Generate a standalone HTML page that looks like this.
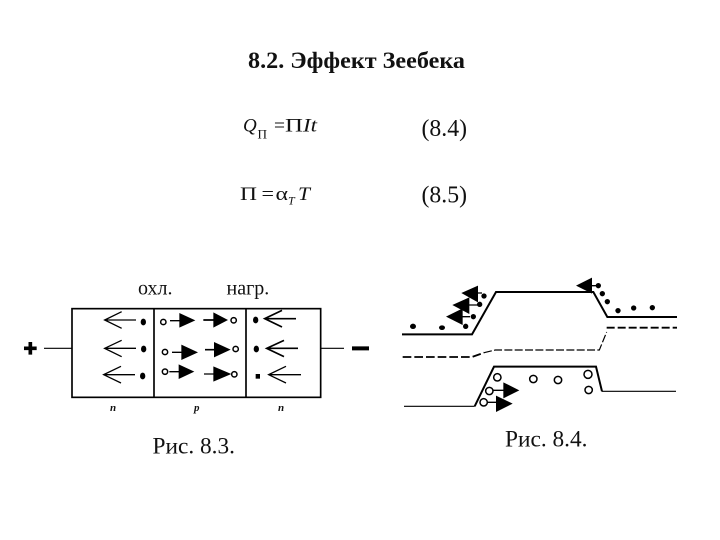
<!DOCTYPE html>
<html lang="ru">
<head>
<meta charset="utf-8">
<style>
html,body{margin:0;padding:0;background:#fff;width:720px;height:540px;overflow:hidden}
svg{display:block}
text{font-family:"Liberation Serif",serif;fill:#111}
</style>
</head>
<body>
<svg width="720" height="540" viewBox="0 0 720 540" xmlns="http://www.w3.org/2000/svg">
<rect width="720" height="540" fill="#fff"/>
<text x="248" y="68" font-size="23" font-weight="bold" textLength="217" lengthAdjust="spacingAndGlyphs">8.2. Эффект Зеебека</text>

<text x="243" y="131.5" font-size="19" font-style="italic">Q</text>
<text x="257.5" y="138.5" font-size="13" textLength="9.5" lengthAdjust="spacingAndGlyphs">П</text>
<text x="274" y="131.5" font-size="19" textLength="11" lengthAdjust="spacingAndGlyphs">=</text>
<text x="285" y="131.5" font-size="19" textLength="18" lengthAdjust="spacingAndGlyphs">П</text>
<text x="303" y="131.5" font-size="19" font-style="italic" textLength="14" lengthAdjust="spacingAndGlyphs">It</text>
<text x="421.5" y="136" font-size="24" textLength="45.5" lengthAdjust="spacingAndGlyphs">(8.4)</text>

<text x="240" y="200" font-size="19" textLength="17" lengthAdjust="spacingAndGlyphs">П</text>
<text x="261.5" y="200" font-size="19" textLength="12.5" lengthAdjust="spacingAndGlyphs">=</text>
<text x="275.5" y="200" font-size="19" textLength="12.5" lengthAdjust="spacingAndGlyphs">α</text>
<text x="288" y="204.5" font-size="12" font-style="italic">T</text>
<text x="298" y="200" font-size="19" font-style="italic" textLength="12" lengthAdjust="spacingAndGlyphs">T</text>
<text x="421.5" y="202.5" font-size="24" textLength="45.5" lengthAdjust="spacingAndGlyphs">(8.5)</text>

<text x="138" y="294.3" font-size="20" fill="#333">охл.</text>
<text x="226.5" y="294.3" font-size="20" fill="#333">нагр.</text>
<text x="110" y="411" font-size="11" font-style="italic" font-weight="bold">n</text>
<text x="194" y="411" font-size="11" font-style="italic" font-weight="bold">p</text>
<text x="278" y="411" font-size="11" font-style="italic" font-weight="bold">n</text>
<text x="152.5" y="453.5" font-size="23.5" textLength="82.5" lengthAdjust="spacingAndGlyphs">Рис. 8.3.</text>
<text x="505" y="446.7" font-size="23.5" textLength="82.5" lengthAdjust="spacingAndGlyphs">Рис. 8.4.</text>

<!-- Fig 8.3 -->
<g transform="translate(0,265) scale(.33333)" fill="none" stroke="#000">
  <rect x="216" y="131" width="746" height="266" stroke-width="5"/>
  <path d="M462 131V397M738 131V397" stroke-width="5"/>
  <path d="M132 250H216M962 250H1032" stroke-width="3.5"/>
  <path d="M72 250H110M91 231V269" stroke-width="11"/>
  <path d="M1056 250H1107" stroke-width="12"/>

  <g stroke-width="4">
    <path d="M408 165H316M365 140L314 165L365 190"/>
    <path d="M408 250H316M365 226L314 250L365 275"/>
    <path d="M405 329H313M363 304L311 329L363 354"/>
    <path d="M888 161H796M846 136L794 161L846 186" stroke-width="5"/>
    <path d="M894 250H802M852 226L800 250L852 275" stroke-width="5"/>
    <path d="M903 329H808M858 304L806 329L858 354"/>
  </g>

  <g fill="#000" stroke="none">
    <ellipse cx="430" cy="171" rx="8" ry="10"/>
    <ellipse cx="431" cy="252" rx="8" ry="10"/>
    <ellipse cx="428" cy="333" rx="8" ry="10"/>
    <ellipse cx="767" cy="165" rx="8" ry="10"/>
    <ellipse cx="769" cy="252" rx="8" ry="10"/>
    <rect x="767" y="327" width="13" height="14"/>
    <path d="M538 144L586 166L538 188Z"/>
    <path d="M640 142L684 165L640 188Z"/>
    <path d="M544 239L594 262L544 285Z"/>
    <path d="M642 231L692 254L642 277Z"/>
    <path d="M536 298L583 320L536 342Z"/>
    <path d="M640 304L694 327L640 350Z"/>
  </g>
  <g stroke-width="4">
    <path d="M510 167H540M516 262H546M508 320H538M612 327H642"/>
    <path d="M610 165H642M615 254H644" stroke-width="5"/>
  </g>
  <g stroke-width="4.5" fill="#fff">
    <circle cx="490" cy="171" r="8"/>
    <circle cx="701" cy="166" r="8"/>
    <circle cx="495" cy="261" r="8"/>
    <circle cx="707" cy="252" r="8"/>
    <circle cx="495" cy="320" r="8"/>
    <circle cx="703" cy="328" r="8"/>
  </g>
</g>

<!-- Fig 8.4 -->
<g transform="translate(390,265) scale(.33333)" fill="none" stroke="#000">
  <path d="M36 208H246L318 81H610L652 156H861" stroke-width="6"/>
  <path d="M38 276H246L282 263" stroke-width="5.5" stroke-dasharray="26 9"/>
  <path d="M282 263L316 255H628L650 201" stroke-width="3.5" stroke-dasharray="24 7"/>
  <path d="M650 188H861" stroke-width="5.5" stroke-dasharray="24 9"/>
  <path d="M254 424L312 305H618L636 379" stroke-width="6"/>
  <path d="M42 424H254" stroke-width="3.5"/>
  <path d="M636 379H858" stroke-width="3.5"/>

  <g fill="#000" stroke="none">
    <ellipse cx="69" cy="184" rx="9" ry="8"/>
    <ellipse cx="156" cy="188" rx="9" ry="7"/>
    <circle cx="227" cy="184" r="8"/>
    <circle cx="250" cy="155" r="8"/>
    <circle cx="269" cy="118" r="8"/>
    <circle cx="282" cy="93" r="8"/>
    <circle cx="625" cy="62" r="8"/>
    <circle cx="637" cy="86" r="8"/>
    <circle cx="652" cy="110" r="8"/>
    <circle cx="684" cy="137" r="8"/>
    <circle cx="731" cy="129" r="8"/>
    <circle cx="787" cy="128" r="8"/>
    <path d="M214 84L264 62V112Z"/>
    <path d="M187 120L238 97V147Z"/>
    <path d="M168 155L218 130V180Z"/>
    <path d="M558 62L606 38V86Z"/>
    <path d="M340 352L388 376L340 400Z"/>
    <path d="M318 392L368 416L318 441Z"/>
  </g>
  <path d="M258 84H276M232 120H264M212 155H240M600 62H620" stroke-width="4"/>
  <path d="M310 376H344M290 412H322" stroke-width="4"/>
  <g stroke-width="4.5" fill="#fff">
    <circle cx="322" cy="337" r="11"/>
    <circle cx="430" cy="342" r="11"/>
    <circle cx="504" cy="345" r="11"/>
    <circle cx="594" cy="328" r="12"/>
    <circle cx="596" cy="375" r="11"/>
    <circle cx="298" cy="378" r="11"/>
    <circle cx="281" cy="412" r="11"/>
  </g>
</g>
</svg>
</body>
</html>
